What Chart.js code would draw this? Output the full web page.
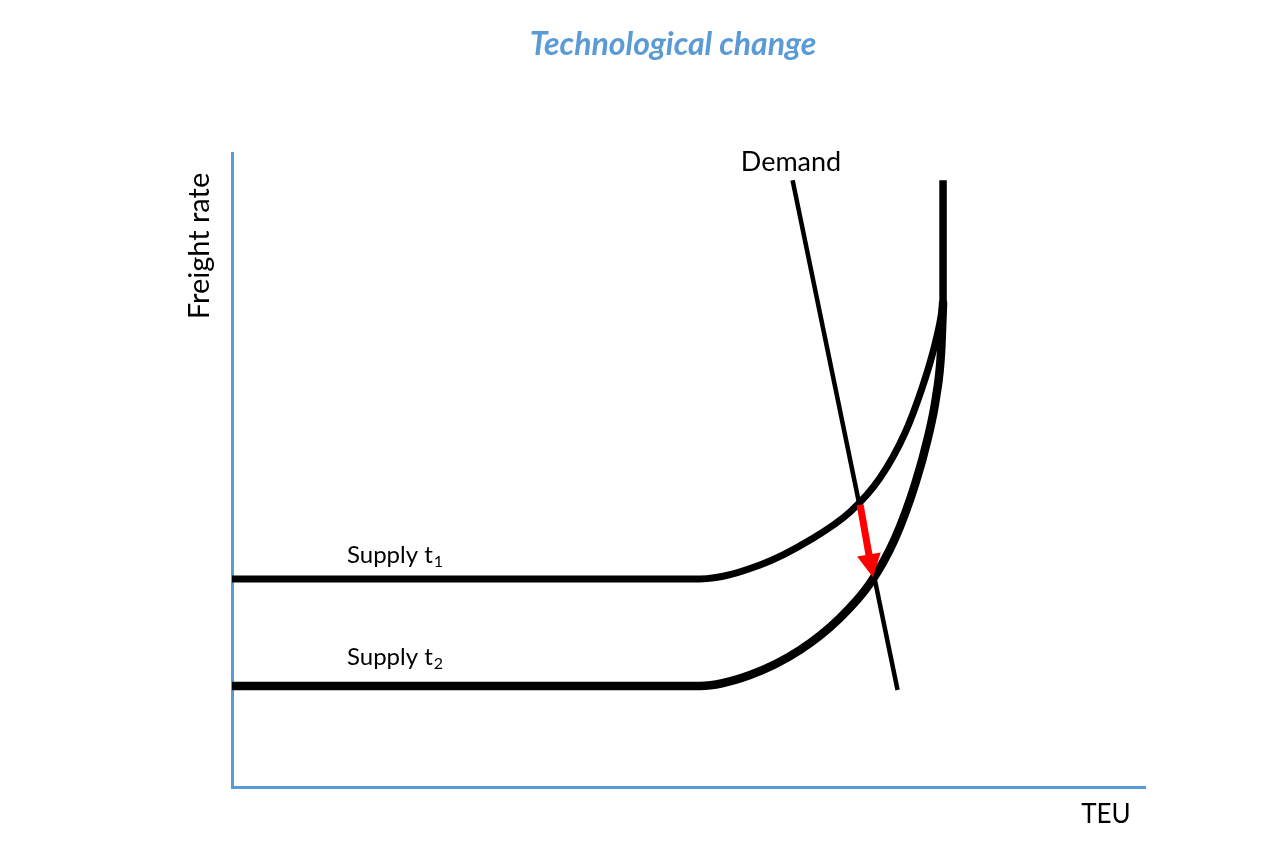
<!DOCTYPE html>
<html><head><meta charset="utf-8">
<script src="https://cdn.jsdelivr.net/npm/chart.js@4.4.0/dist/chart.umd.min.js"></script>
<style>html,body{margin:0;padding:0;background:#fff}#wrap{width:1280px;height:852px;position:relative}</style>
</head><body><div id="wrap"><canvas id="c"></canvas></div>
<script>
// Data (axis units 0..100 on both axes)
const supplyT1X = [0, 51.26, 57.83, 63.31, 67.69, 70.97, 73.71, 75.58, 76.78, 77.55, 77.88];
const supplyT1Y = [32.81, 32.81, 35.02, 38.96, 43.38, 48.74, 55.84, 62.93, 68.61, 73.34, 76.34];
const supplyT2X = [0, 51.26, 56.74, 62.21, 66.59, 69.88, 72.62, 74.81, 76.23, 77.11, 77.66, 77.88];
const supplyT2Y = [15.93, 15.93, 17.67, 21.61, 26.66, 32.10, 39.20, 47.71, 55.13, 61.44, 68.53, 76.34];
const capacityX = [77.88, 77.88];   // shared vertical part of both supply curves
const capacityY = [76.34, 95.7];
const demandX = [61.4, 72.9];
const demandY = [95.7, 15.3];
const shiftArrowX = [68.8, 70.2];   // from t1 equilibrium to t2 equilibrium
const shiftArrowY = [44.5, 33.1];

const titleText = 'Technological change';
const yAxisLabel = 'Freight rate';
const xAxisLabel = 'TEU';
const demandLabel = 'Demand';
const supplyLabels = [['Supply t', '1'], ['Supply t', '2']];

const pts = (xs, ys) => xs.map((x, i) => ({x, y: ys[i]}));

const axisColor = '#5b9bd5';

const arrowPlugin = {
  id: 'shiftArrow',
  afterDatasetsDraw(chart) {
    const {ctx, scales: {x, y}} = chart;
    const x0 = x.getPixelForValue(shiftArrowX[0]), y0 = y.getPixelForValue(shiftArrowY[0]);
    const x1 = x.getPixelForValue(shiftArrowX[1]), y1 = y.getPixelForValue(shiftArrowY[1]);
    const ang = Math.atan2(y1 - y0, x1 - x0);
    const headLen = 23, headHalf = 12;
    const bx = x1 - headLen * Math.cos(ang), by = y1 - headLen * Math.sin(ang);
    ctx.save();
    ctx.strokeStyle = '#ff0000';
    ctx.fillStyle = '#ff0000';
    ctx.lineWidth = 7;
    ctx.lineCap = 'butt';
    ctx.beginPath();
    ctx.moveTo(x0, y0);
    ctx.lineTo(bx + 2 * Math.cos(ang), by + 2 * Math.sin(ang));
    ctx.stroke();
    ctx.beginPath();
    ctx.moveTo(x1, y1);
    ctx.lineTo(bx + headHalf * Math.sin(ang), by - headHalf * Math.cos(ang));
    ctx.lineTo(bx - headHalf * Math.sin(ang), by + headHalf * Math.cos(ang));
    ctx.closePath();
    ctx.fill();
    ctx.restore();
  }
};

const textPlugin = {
  id: 'texts',
  afterDraw(chart) {
    const {ctx} = chart;
    ctx.save();
    ctx.textBaseline = 'middle';
    // title
    ctx.fillStyle = axisColor;
    ctx.font = 'italic bold 32px Lato';
    ctx.textAlign = 'center';
    ctx.fillText(titleText, 673, 45);
    ctx.fillStyle = '#000';
    // demand
    ctx.font = '27px Lato';
    ctx.fillText(demandLabel, 791, 162);
    // TEU
    ctx.font = '26px Lato';
    ctx.fillText(xAxisLabel, 1106, 815);
    // y label
    ctx.save();
    ctx.translate(200, 246);
    ctx.rotate(-Math.PI / 2);
    ctx.font = '29px Lato';
    ctx.fillText(yAxisLabel, 0, 0);
    ctx.restore();
    // supply labels
    const sy = [555, 657];
    supplyLabels.forEach((lab, i) => {
      ctx.textAlign = 'left';
      ctx.font = '24px Lato';
      ctx.fillText(lab[0], 347, sy[i]);
      const w = ctx.measureText(lab[0]).width;
      ctx.font = '16px Lato';
      ctx.fillText(lab[1], 347 + w + 1, sy[i] + 7);
    });
    ctx.restore();
  }
};

const lineDs = (data, w) => ({
  data, borderColor: '#000', borderWidth: w, pointRadius: 0, pointHoverRadius: 0,
  fill: false, cubicInterpolationMode: 'monotone', borderCapStyle: 'round', borderJoinStyle: 'round'
});

new Chart(document.getElementById('c'), {
  type: 'line',
  data: {
    datasets: [
      lineDs(pts(supplyT2X, supplyT2Y), 8.5),
      lineDs(pts(supplyT1X, supplyT1Y), 7),
      Object.assign(lineDs(pts(capacityX, capacityY), 7.5), {cubicInterpolationMode: 'default', tension: 0, borderCapStyle: 'butt'}),
      Object.assign(lineDs(pts(demandX, demandY), 4.5), {cubicInterpolationMode: 'default', tension: 0, borderCapStyle: 'butt'})
    ]
  },
  options: {
    responsive: true,
    maintainAspectRatio: false,
    animation: false,
    events: [],
    layout: {padding: {left: 232, right: 135, top: 153, bottom: 65}},
    plugins: {legend: {display: false}, tooltip: {enabled: false}, title: {display: false}},
    scales: {
      x: {
        type: 'linear', min: 0, max: 100,
        grid: {display: false, drawTicks: false, tickLength: 0},
        ticks: {display: false},
        border: {display: true, color: axisColor, width: 3}
      },
      y: {
        type: 'linear', min: 0, max: 100,
        grid: {display: false, drawTicks: false, tickLength: 0},
        ticks: {display: false},
        border: {display: true, color: axisColor, width: 3}
      }
    }
  },
  plugins: [arrowPlugin, textPlugin]
});
</script>
</body></html>
